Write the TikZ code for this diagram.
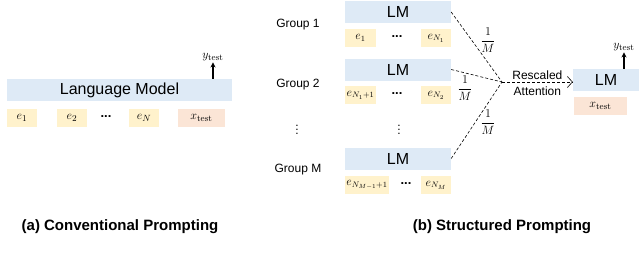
\documentclass[tikz,border=0pt]{standalone}
\usepackage[no-math]{fontspec}
\setmainfont{Liberation Sans}
\usetikzlibrary{arrows.meta, positioning, calc}
\definecolor{lmblue}{RGB}{222, 234, 246}
\definecolor{tokyellow}{RGB}{255, 242, 204}
\definecolor{qrypeach}{RGB}{251, 229, 214}

\begin{document}
\begin{tikzpicture}[
    x=1pt, y=-1pt,
    lmbar/.style={fill=lmblue, inner sep=0pt, minimum height=22pt,
                  font=\fontsize{16}{16}\selectfont},
    token/.style={fill=tokyellow, inner sep=0pt, minimum width=30pt,
                  minimum height=18pt, font=\fontsize{13}{13}\selectfont},
    rtoken/.style={token, minimum width=31pt, font=\fontsize{12}{12}\selectfont},
    query/.style={token, fill=qrypeach},
    grouplabel/.style={font=\fontsize{12}{12}\selectfont},
    ellip/.style={inner sep=0pt, font=\fontsize{13}{13}\selectfont\bfseries},
    keluar/.style={-{Stealth[length=5pt, width=5pt]}, line width=1.2pt},
    putus/.style={densely dashed, line width=0.6pt},
    bobot/.style={inner sep=0pt, font=\fontsize{13}{13}\selectfont},
    judul/.style={font=\fontsize{15}{15}\selectfont\bfseries}
  ]
    \useasboundingbox (0,0) rectangle (640,252);

    % (a) conventional prompting
    \node[lmbar, minimum width=225pt] (lang) at (119.5,90) {Language Model};
    \node[token] (le1) at (22,118)  {$e_1$};
    \node[token] (le2) at (72,118)  {$e_2$};
    \node[ellip] (ldot) at (106,117) {...};
    \node[token] (leN) at (144,118) {$e_N$};
    \node[query, minimum width=47pt] (lx) at (201.5,118) {$x_{\mathrm{test}}$};
    \node[inner sep=1pt, font=\fontsize{13}{13}\selectfont] (ly) at (213,57.5) {$y_{\mathrm{test}}$};
    \draw[keluar] (lang.north -| ly) -- (ly.south);
    \node[judul] (capa) at (120,227) {(a) Conventional Prompting};

    % (b) structured prompting
    \node[lmbar, minimum width=106pt] (lm1) at (398,12)    {LM};
    \node[lmbar, minimum width=106pt] (lm2) at (398,69.5)  {LM};
    \node[lmbar, minimum width=106pt] (lmM) at (398,158.5) {LM};

    \node[rtoken] (a1) at (360.5,38) {$e_1$};
    \node[ellip]  (d1) at (397,37)   {...};
    \node[rtoken, minimum width=30pt] (b1) at (436,38) {$e_{N_1}$};

    \node[rtoken] (a2) at (360.5,95) {$e_{N_1+1}$};
    \node[ellip]  (d2) at (397,94)   {...};
    \node[rtoken, minimum width=30pt] (b2) at (436,95) {$e_{N_2}$};

    \node[rtoken, minimum width=44pt] (aM) at (367,185) {$e_{N_{M-1}+1}$};
    \node[ellip]  (dM) at (406,184)  {...};
    \node[rtoken, minimum width=30pt] (bM) at (436,185) {$e_{N_M}$};

    \node[grouplabel] (g1) at (298,25)  {Group 1};
    \node[grouplabel] (g2) at (298,85)  {Group 2};
    \node[grouplabel] (gM) at (298,170) {Group M};
    \node[inner sep=0pt, font=\fontsize{12}{12}\selectfont] (vd1) at (297,127) {$\vdots$};
    \node[inner sep=0pt, font=\fontsize{12}{12}\selectfont] (vd2) at (399,127) {$\vdots$};

    \coordinate (meet) at (502,82);
    \foreach \m in {lm1,lm2,lmM} \draw[putus] (\m.east) -- (meet);
    \node[bobot] (w1) at (488,40)  {$\displaystyle\frac{1}{M}$};
    \node[bobot] (w2) at (465,88)  {$\displaystyle\frac{1}{M}$};
    \node[bobot] (wM) at (488,122) {$\displaystyle\frac{1}{M}$};

    \node[lmbar, minimum width=66pt] (lmR) at (606,80) {LM};
    \node[query, minimum width=53pt] (xR) at (600.5,106) {$x_{\mathrm{test}}$};
    \node[inner sep=1pt, font=\fontsize{13}{13}\selectfont] (yR) at (624,47.5) {$y_{\mathrm{test}}$};
    \draw[keluar] (lmR.north -| yR) -- (yR.south);

    \draw[putus, -{Straight Barb[length=5pt, width=11pt]}] (meet) -- (meet -| lmR.west)
      node[midway, above, inner sep=2pt, font=\fontsize{12}{12}\selectfont] (resc) {Rescaled}
      node[midway, below, inner sep=4.5pt, font=\fontsize{12}{12}\selectfont] (attn) {Attention};
    \node[judul] (capb) at (502,227) {(b) Structured Prompting};
\end{tikzpicture}
\end{document}
